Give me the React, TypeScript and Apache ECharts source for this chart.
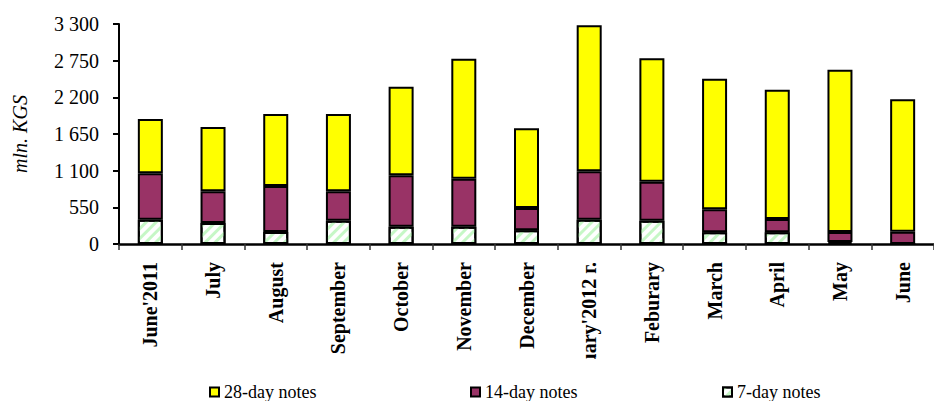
import React, { useEffect, useRef } from "react";
import * as echarts from "echarts";

const categories = [
  "June'2011",
  "July",
  "August",
  "September",
  "October",
  "November",
  "December",
  "January'2012 г.",
  "Feburary",
  "March",
  "April",
  "May",
  "June",
];
const notes7 = [365, 315, 180, 350, 260, 260, 205, 365, 350, 175, 175, 30, 0];
const notes14 = [695, 475, 690, 440, 770, 720, 335, 725, 585, 345, 200, 150, 185];
const notes28 = [815, 965, 1080, 1160, 1330, 1800, 1195, 2190, 1850, 1960, 1940, 2435, 1985];
const yTickLabels = ["0", "550", "1 100", "1 650", "2 200", "2 750", "3 300"];
const seriesNames = ["28-day notes", "14-day notes", "7-day notes"];

const FONT = "'Liberation Serif', 'Times New Roman', serif";

export default function App() {
  const ref = useRef<HTMLDivElement>(null);
  useEffect(() => {
    if (!ref.current) return;
    const chart = echarts.init(ref.current, undefined, { renderer: "svg" });
    const border = { borderColor: "#000", borderWidth: 2 };
    const legendBase = {
      top: 378,
      icon: "rect",
      itemWidth: 9,
      itemHeight: 9,
      textStyle: { fontFamily: FONT, fontSize: 18, color: "#000" },
      selectedMode: false,
    };
    chart.setOption({
      animation: false,
      backgroundColor: "#fff",
      grid: { left: 119, right: -10, top: 24, bottom: 157 },
      legend: [
        { ...legendBase, left: 204, data: [seriesNames[0]] },
        { ...legendBase, left: 465, data: [seriesNames[1]] },
        { ...legendBase, left: 717, data: [seriesNames[2]] },
      ],
      xAxis: {
        type: "category",
        data: categories,
        axisLine: { lineStyle: { color: "#000", width: 2.5 } },
        axisTick: { show: true, length: 6, lineStyle: { color: "#333", width: 1.5 } },
        axisLabel: {
          rotate: 90,
          interval: 0,
          margin: 18,
          fontFamily: FONT,
          fontWeight: "bold",
          fontSize: 20,
          color: "#000",
        },
      },
      yAxis: {
        type: "value",
        min: 0,
        max: 3300,
        interval: 550,
        name: "mln. KGS",
        nameLocation: "middle",
        nameGap: 89,
        nameTextStyle: { fontFamily: FONT, fontStyle: "italic", fontSize: 20, color: "#000" },
        axisLine: { show: true, lineStyle: { color: "#000", width: 2 } },
        axisTick: { show: true, length: 6, lineStyle: { color: "#000", width: 2 } },
        splitLine: { show: false },
        axisLabel: {
          margin: 20,
          fontFamily: FONT,
          fontSize: 20,
          color: "#000",
          formatter: (v: number) => yTickLabels[Math.round(v / 550)] ?? String(v),
        },
      },
      series: [
        {
          name: seriesNames[2],
          type: "bar",
          stack: "total",
          barWidth: 25,
          data: notes7,
          itemStyle: {
            color: "#fff",
            ...border,
            decal: {
              symbol: "rect",
              symbolSize: 1,
              color: "#c6f7c6",
              backgroundColor: null,
              dashArrayX: [1, 0],
              dashArrayY: [3, 4],
              rotation: -Math.PI / 4,
            },
          },
        },
        {
          name: seriesNames[1],
          type: "bar",
          stack: "total",
          barWidth: 25,
          data: notes14,
          itemStyle: { color: "#993366", ...border },
        },
        {
          name: seriesNames[0],
          type: "bar",
          stack: "total",
          barWidth: 25,
          data: notes28,
          itemStyle: { color: "#ffff00", ...border },
        },
      ],
      graphic: [
        {
          type: "rect",
          z: 100,
          shape: { x: 580, y: 359, width: 36, height: 44 },
          style: { fill: "#fff" },
        },
      ],
    });
    return () => chart.dispose();
  }, []);
  return <div ref={ref} style={{ width: 934, height: 401, position: "absolute", left: 0, top: 0 }} />;
}
